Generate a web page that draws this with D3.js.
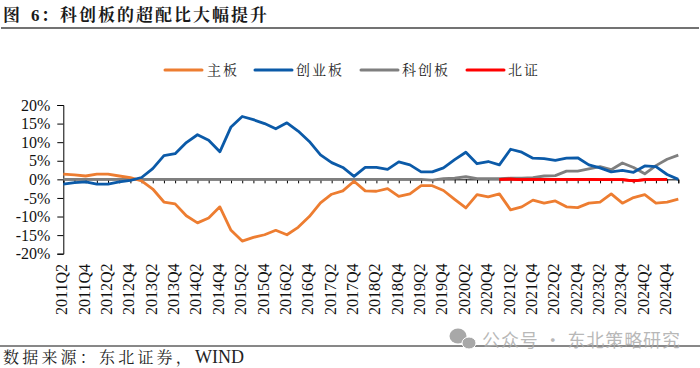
<!DOCTYPE html>
<html><head><meta charset="utf-8">
<script src="https://cdn.jsdelivr.net/npm/d3@7/dist/d3.min.js"></script>
<style>html,body{margin:0;padding:0;background:#fff}svg{display:block}</style>
</head><body><svg id="c" width="700" height="368"></svg>
<script>
const seriesNames = ["主板","创业板","科创板","北证"];
const seriesColors = ["#ED7D31","#0B5AA8","#7F7F7F","#FF0000"];
const yTicks = [20,15,10,5,0,-5,-10,-15,-20];
const mainBoard = [1.4,1.2,0.9,1.4,1.4,0.9,0.45,-0.4,-2.6,-6.1,-6.6,-9.8,-11.7,-10.4,-7.4,-13.7,-16.6,-15.6,-14.9,-13.7,-14.9,-12.9,-10,-6.3,-4,-3.1,-0.5,-3.1,-3.2,-2.5,-4.6,-3.9,-1.7,-1.7,-3,-5.4,-7.7,-4.1,-4.7,-3.9,-8.2,-7.4,-5.6,-6.4,-5.8,-7.4,-7.6,-6.4,-6.1,-3.9,-6.4,-4.9,-4.1,-6.4,-6.1,-5.3];
const chinext = [-1.3,-0.9,-0.7,-1.3,-1.3,-0.7,-0.3,0.5,2.9,6.4,6.9,9.9,12,10.5,7.4,14.1,16.9,16.05,15,13.6,15.2,13,10.2,6.6,4.5,3.2,0.8,3.2,3.2,2.7,4.7,3.9,2,2,3.1,5.3,7.3,4.2,4.8,3.9,8.1,7.3,5.7,5.6,5.1,5.7,5.8,3.9,3.1,2,2.4,1.9,3.6,3.4,1.3,0];
const star = [0,0,0,0,0,0,0,0,0,0,0,0,0,0,0,0,0,0,0,0,0,0,0,0,0,0,0,0,0,0,0,0,0,-0.2,0.2,0.3,0.7,0.2,0.2,0.2,0.3,0.35,0.45,0.9,1,2.2,2.2,2.8,3.4,2.6,4.4,3.2,1.5,3.7,5.4,6.5];
const bse = new Array(39).fill(null).concat([0,0.05,-0.05,0,0,0,0,0,0,-0.1,-0.1,-0.1,-0.4,-0.1,0,0]);
const firstYear = 2011;
const quarters = d3.range(mainBoard.length).map(i=>{const q=i+1;return (firstYear+Math.floor(q/4))+"Q"+(q%4+1);});
const values = [mainBoard,chinext,star,bse];

const svg = d3.select("#c");
const serif = "'Liberation Serif','Times New Roman',serif";
const cjk = "'Noto Serif CJK SC','Noto Sans CJK SC',sans-serif";
const x = d3.scalePoint().domain(quarters).range([63.3,678.3]);
const y = d3.scaleLinear().domain([-20,20]).range([253.7,105]);

// title
const t = svg.append("text").attr("x",3).attr("y",21).attr("font-family",cjk).attr("font-size",17).attr("font-weight",700).attr("fill","#1a1a1a");
t.append("tspan").text("图");
t.append("tspan").attr("x",31).attr("font-family",serif).text("6");
t.append("tspan").attr("x",41).text("：");
t.append("tspan").attr("x",60).attr("letter-spacing",2).text("科创板的超配比大幅提升");
svg.append("line").attr("x1",1).attr("x2",699).attr("y1",28).attr("y2",28).attr("stroke","#444").attr("stroke-width",1.6);

// legend
const legendX = [165,255,361,467];
const legendTextX = [207,296,402,508];
seriesNames.forEach((n,i)=>{
  svg.append("line").attr("x1",legendX[i]).attr("x2",legendX[i]+37).attr("y1",70).attr("y2",70).attr("stroke",seriesColors[i]).attr("stroke-width",3).attr("stroke-linecap","round");
  svg.append("text").attr("x",legendTextX[i]).attr("y",75).attr("font-family",cjk).attr("font-size",14).attr("letter-spacing",2).attr("fill","#222").text(n);
});

// axes
const yAxis = d3.axisLeft(y).tickValues(yTicks).tickSize(6).tickFormat(d=>d+"%");
const gy = svg.append("g").attr("transform","translate(63.3,0)").call(yAxis);
gy.selectAll("text").attr("font-family",serif).attr("font-size",16).attr("fill","#111").attr("x",-13);
gy.selectAll("line,path").attr("stroke","#000").attr("stroke-width",1);
const xAxis = d3.axisBottom(x).tickSize(4).tickFormat("");
const gx = svg.append("g").attr("transform",`translate(0,${y(0)})`).call(xAxis);
gx.selectAll("line,path").attr("stroke","#000").attr("stroke-width",1);
gx.selectAll("text").remove();

// x labels
const labelled = quarters.filter((d,i)=>i%2===0);
svg.append("g").selectAll("text").data(labelled).join("text")
  .attr("transform",d=>`translate(${x(d)+4},315) rotate(-90)`)
  .attr("font-family",serif).attr("font-size",16).attr("fill","#111").text(d=>d);

// series
const line = d3.line().defined(d=>d!==null).x((d,i)=>x(quarters[i])).y(d=>y(d));
[2,3,0,1].forEach(k=>{
  svg.append("path").attr("d",line(values[k])).attr("fill","none").attr("stroke",seriesColors[k]).attr("stroke-width",2.8).attr("stroke-linejoin","round");
});
svg.append("path").attr("d",line(values[3])).attr("fill","none").attr("stroke",seriesColors[3]).attr("stroke-width",2.8);

// footer
svg.append("line").attr("x1",0).attr("x2",700).attr("y1",346).attr("y2",346).attr("stroke","#111").attr("stroke-width",1);
const f = svg.append("text").attr("x",3).attr("y",363).attr("font-family",cjk).attr("font-size",16).attr("fill","#222");
f.append("tspan").attr("letter-spacing",3.2).text("数据来源：东北证券，");
f.append("tspan").attr("x",195).attr("font-family",serif).attr("font-size",18).text("WIND");

// watermark
const w = svg.append("g").attr("fill","#a8a8a8");
w.append("ellipse").attr("cx",458).attr("cy",336).attr("rx",8.5).attr("ry",7.5);
w.append("ellipse").attr("cx",469).attr("cy",343).attr("rx",7,).attr("ry",6).attr("stroke","#fff");
svg.append("text").attr("x",482).attr("y",347).attr("font-family","'Noto Sans CJK SC',sans-serif").attr("font-size",18).attr("letter-spacing",0.9).attr("fill","#ababab").attr("fill-opacity",0.85).text("公众号 · 东北策略研究");
</script></body></html>
